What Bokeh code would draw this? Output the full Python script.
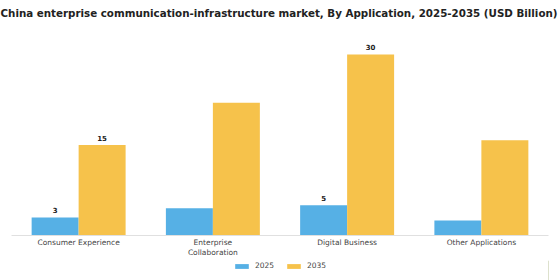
from bokeh.plotting import figure
from bokeh.models import ColumnDataSource, FactorRange, Range1d, Legend, LegendItem
from bokeh.layouts import column
from bokeh.transform import dodge
from bokeh.core.properties import value
from bokeh.embed import file_html
from bokeh.resources import INLINE

categories = ["Consumer Experience", "Enterprise\nCollaboration", "Digital Business", "Other Applications"]
years = ["2025", "2035"]
values_2025 = [3.0, 4.5, 5.0, 2.5]
values_2035 = [15.0, 22.0, 30.0, 15.8]
shown_2025 = ["3", "", "5", ""]
shown_2035 = ["15", "", "30", ""]

blue = "#56B0E5"
yellow = "#F6C24B"

src = ColumnDataSource(dict(cat=categories, v25=values_2025, v35=values_2035,
                            l25=shown_2025, l35=shown_2035))

p = figure(width=560, height=260, x_range=FactorRange(*categories),
           y_range=Range1d(0, 35.3), output_backend="svg", toolbar_location=None,
           min_border_left=11, min_border_right=12, min_border_top=0, min_border_bottom=21)
p.title.text = "China enterprise communication-infrastructure market, By Application, 2025-2035 (USD Billion)"
p.title.text_font = "DejaVu Sans"
p.title.text_font_size = "10.3px"
p.title.text_font_style = "bold"
p.title.text_color = "#222222"
p.title.align = "left"
p.title.offset = -11
p.title.standoff = 8

r1 = p.vbar(x=dodge("cat", -0.175, range=p.x_range), top="v25", width=0.35, source=src,
            fill_color=blue, line_color=None)
r2 = p.vbar(x=dodge("cat", 0.175, range=p.x_range), top="v35", width=0.35, source=src,
            fill_color=yellow, line_color=None)
p.text(x=dodge("cat", -0.175, range=p.x_range), y="v25", text="l25", source=src,
       text_align="center", text_baseline="bottom", y_offset=-4,
       text_font=value("DejaVu Sans"), text_font_size="7px", text_font_style="bold", text_color="#222222")
p.text(x=dodge("cat", 0.175, range=p.x_range), y="v35", text="l35", source=src,
       text_align="center", text_baseline="bottom", y_offset=-4,
       text_font=value("DejaVu Sans"), text_font_size="7px", text_font_style="bold", text_color="#222222")

p.yaxis.visible = False
p.xgrid.visible = False
p.ygrid.visible = False
p.outline_line_color = None
p.xaxis.axis_line_color = "#e0e0e0"
p.xaxis.major_tick_line_color = None
p.xaxis.minor_tick_line_color = None
p.xaxis.major_tick_out = 0
p.xaxis.major_tick_in = 0
p.xaxis.major_label_text_font = "DejaVu Sans"
p.xaxis.major_label_text_font_size = "7.5px"
p.xaxis.major_label_text_color = "#444444"
p.xaxis.major_label_standoff = 2
p.x_range.range_padding = 0
p.x_range.group_padding = 0

# legend strip
q = figure(width=560, height=20, x_range=Range1d(0, 1), y_range=Range1d(0, 1),
           output_backend="svg", toolbar_location=None,
           min_border_left=0, min_border_right=0, min_border_top=0, min_border_bottom=0)
q.axis.visible = False
q.grid.visible = False
q.outline_line_color = None
lr1 = q.vbar(x=[5], top=[5], width=0.1, fill_color=blue, line_color=None)
lr2 = q.vbar(x=[5], top=[5], width=0.1, fill_color=yellow, line_color=None)
legend = Legend(items=[LegendItem(label=years[0], renderers=[lr1]),
                       LegendItem(label=years[1], renderers=[lr2])],
                orientation="horizontal", location=(222, 10), border_line_color=None,
                background_fill_alpha=0,
                label_text_font="DejaVu Sans", label_text_font_size="7.5px", label_text_color="#444444",
                glyph_width=17, glyph_height=6, spacing=10, padding=2, margin=0,
                label_standoff=5)
q.add_layout(legend, "center")

open("out.html", "w").write(file_html(column(p, q, spacing=0), INLINE))
